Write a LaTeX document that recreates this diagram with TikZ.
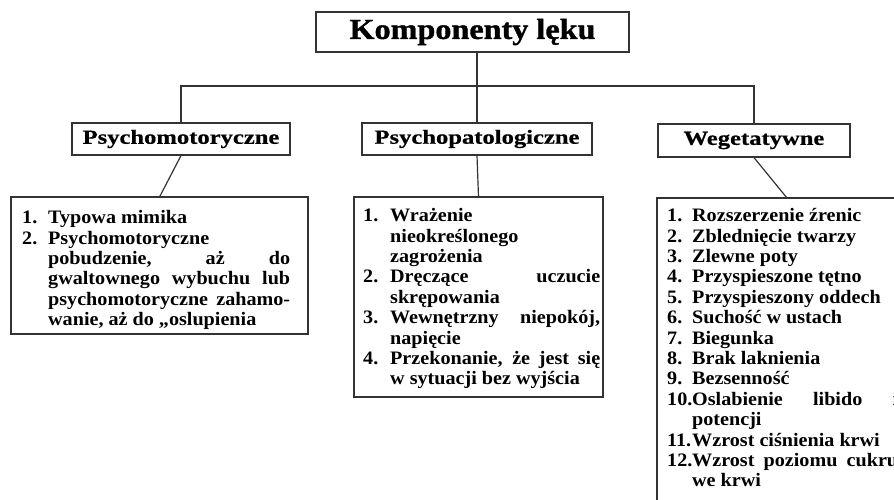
\documentclass[tikz,border=0pt]{standalone}
\usepackage{fontspec}
\setmainfont{Liberation Serif}
\newfontfamily\tytulfont[FakeStretch=1.11,FakeBold=1.2]{Liberation Serif}
\newfontfamily\naglfont[FakeStretch=1.23,FakeBold=0.6]{Liberation Serif}
\newfontfamily\listafont[FakeStretch=1.06]{Liberation Serif}
\usetikzlibrary{calc}
\hyphenpenalty=10000
\exhyphenpenalty=10000
\tolerance=10000
\newlength{\wciecie}
\newcommand{\pkt}[2]{\par\noindent\hangindent=\wciecie\hangafter=1\makebox[\wciecie][l]{#1}#2}

\begin{document}
\begin{tikzpicture}[x=1pt,y=-1pt,
	ramka/.style={draw=black!80, line width=1.2pt},
	linia/.style={draw=black!80, line width=1.2pt},
	tytul/.style={ramka, font=\tytulfont\bfseries\fontsize{29}{32}\selectfont, minimum width=313pt, minimum height=40pt, inner sep=0pt},
	naglowek/.style={ramka, font=\naglfont\bfseries\fontsize{20}{22}\selectfont, minimum height=32pt, inner sep=0pt},
	lista/.style={ramka, anchor=north west, inner sep=0pt, outer sep=0pt},
	tekst/.style={anchor=north west, inner sep=0pt, align=justify, font=\listafont\bfseries\fontsize{19}{20.4}\selectfont}]
	\clip (0,0) rectangle (894,500);
	\useasboundingbox (0,0) rectangle (894,500);
	
	\node[tytul] (tytul) at (472.5,32) {Komponenty lęku};
	\node[naglowek, minimum width=218pt] (psm) at (181,139) {Psychomotoryczne};
	\node[naglowek, minimum width=230pt] (psp) at (477,139) {Psychopatologiczne};
	\node[naglowek, minimum width=192pt, minimum height=33pt] (weg) at (754,140.5) {Wegetatywne};
	
	\node[lista, minimum width=297pt, minimum height=137pt] (lpsm) at (11,197) {};
	\node[lista, minimum width=249pt, minimum height=200pt] (lpsp) at (354,197) {};
	\node[lista, minimum width=260pt, minimum height=330pt] (lweg) at (657,198) {};
	
	\node[tekst, text width=268pt] (tpsm) at (22,203) {\setlength{\wciecie}{26pt}%
		\pkt{1.}{Typowa mimika}
		\pkt{2.}{Psychomotoryczne\newline pobudzenie, aż do\linebreak gwaltownego wybuchu lub\linebreak psychomotoryczne zahamo-\linebreak wanie, aż do „oslupienia}\par};
	\node[tekst, text width=237pt] (tpsp) at (363,201) {\setlength{\wciecie}{27pt}%
		\pkt{1.}{Wrażenie\newline nieokreślonego\newline zagrożenia}
		\pkt{2.}{Dręczące uczucie\linebreak skrępowania}
		\pkt{3.}{Wewnętrzny niepokój,\linebreak napięcie}
		\pkt{4.}{Przekonanie, że jest się\linebreak w sytuacji bez wyjścia}\par};
	\node[tekst, text width=231pt] (tweg) at (667,201) {\setlength{\wciecie}{25pt}%
		\pkt{1.}{Rozszerzenie źrenic}
		\pkt{2.}{Zblednięcie twarzy}
		\pkt{3.}{Zlewne poty}
		\pkt{4.}{Przyspieszone tętno}
		\pkt{5.}{Przyspieszony oddech}
		\pkt{6.}{Suchość w ustach}
		\pkt{7.}{Biegunka}
		\pkt{8.}{Brak laknienia}
		\pkt{9.}{Bezsenność}
		\pkt{10.}{Oslabienie libido i\linebreak potencji}
		\pkt{11.}{Wzrost ciśnienia krwi}
		\pkt{12.}{Wzrost poziomu cukru\linebreak we krwi}\par};
	
	\coordinate (szyna) at (477,86);
	\draw[linia] (psp.north) -- (psp.north |- tytul.south);
	\draw[linia] (psm.north) -- (psm.north |- szyna) -- (weg.north |- szyna) -- (weg.north);
	\draw[linia] (psm.south) -- (lpsm.north);
	\draw[linia] (psp.south) -- (lpsp.north);
	\draw[linia] (weg.south) -- (lweg.north);
\end{tikzpicture}
\end{document}
